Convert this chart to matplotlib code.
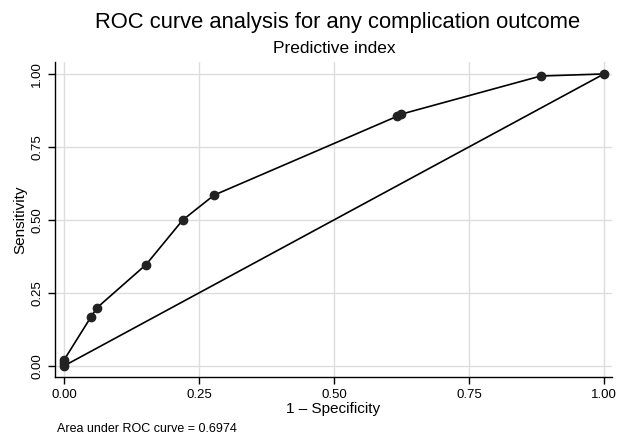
import matplotlib
matplotlib.use("Agg")
import matplotlib.pyplot as plt

# ROC points
fpr = [0.0, 0.0, 0.0, 0.05, 0.061, 0.152, 0.22, 0.278, 0.617, 0.624, 0.883, 1.0]
tpr = [0.0, 0.01, 0.02, 0.168, 0.199, 0.347, 0.50, 0.585, 0.855, 0.862, 0.993, 1.0]
ref_x = [0.0, 1.0]
ref_y = [0.0, 1.0]
ticks = [0.0, 0.25, 0.5, 0.75, 1.0]
tick_labels = ["0.00", "0.25", "0.50", "0.75", "1.00"]

plt.rcParams['font.family'] = ['Liberation Sans', 'DejaVu Sans']

fig = plt.figure(figsize=(6.21, 4.38), dpi=100)
ax = fig.add_axes([55 / 621, 61 / 438, 557 / 621, 315 / 438])

ax.plot(fpr, tpr, color="black", lw=1.2, marker="o", ms=6,
        markerfacecolor="#222222", markeredgecolor="#222222", zorder=3)
ax.plot(ref_x, ref_y, color="black", lw=1.2, zorder=2)

ax.set_xlim(-0.0167, 1.015)
ax.set_ylim(-0.038, 1.041)
ax.set_xticks(ticks)
ax.set_xticklabels(tick_labels, fontsize=9.5)
ax.set_yticks(ticks)
ax.set_yticklabels(tick_labels, fontsize=9.5, rotation=90, va="center")
ax.grid(True, color="#dddddd", lw=1.0)
ax.set_axisbelow(True)
for s in ["top", "right"]:
    ax.spines[s].set_visible(False)
ax.spines["left"].set_linewidth(1.0)
ax.spines["bottom"].set_linewidth(1.0)
ax.tick_params(direction="out", length=5, width=1, colors="black")

ax.set_xlabel("1 \u2013 Specificity", fontsize=11, labelpad=1)
ax.set_ylabel("Sensitivity", fontsize=11, labelpad=3)

fig.text(338 / 621, 1 - 28 / 438, "ROC curve analysis for any complication outcome",
         ha="center", va="baseline", fontsize=15.8)
fig.text(334 / 621, 1 - 53 / 438, "Predictive index", ha="center",
         va="baseline", fontsize=12.5)
fig.text(57 / 621, 1 - 432 / 438, "Area under ROC curve = 0.6974",
         va="baseline", fontsize=9)

fig.savefig("out.png", dpi=100)
